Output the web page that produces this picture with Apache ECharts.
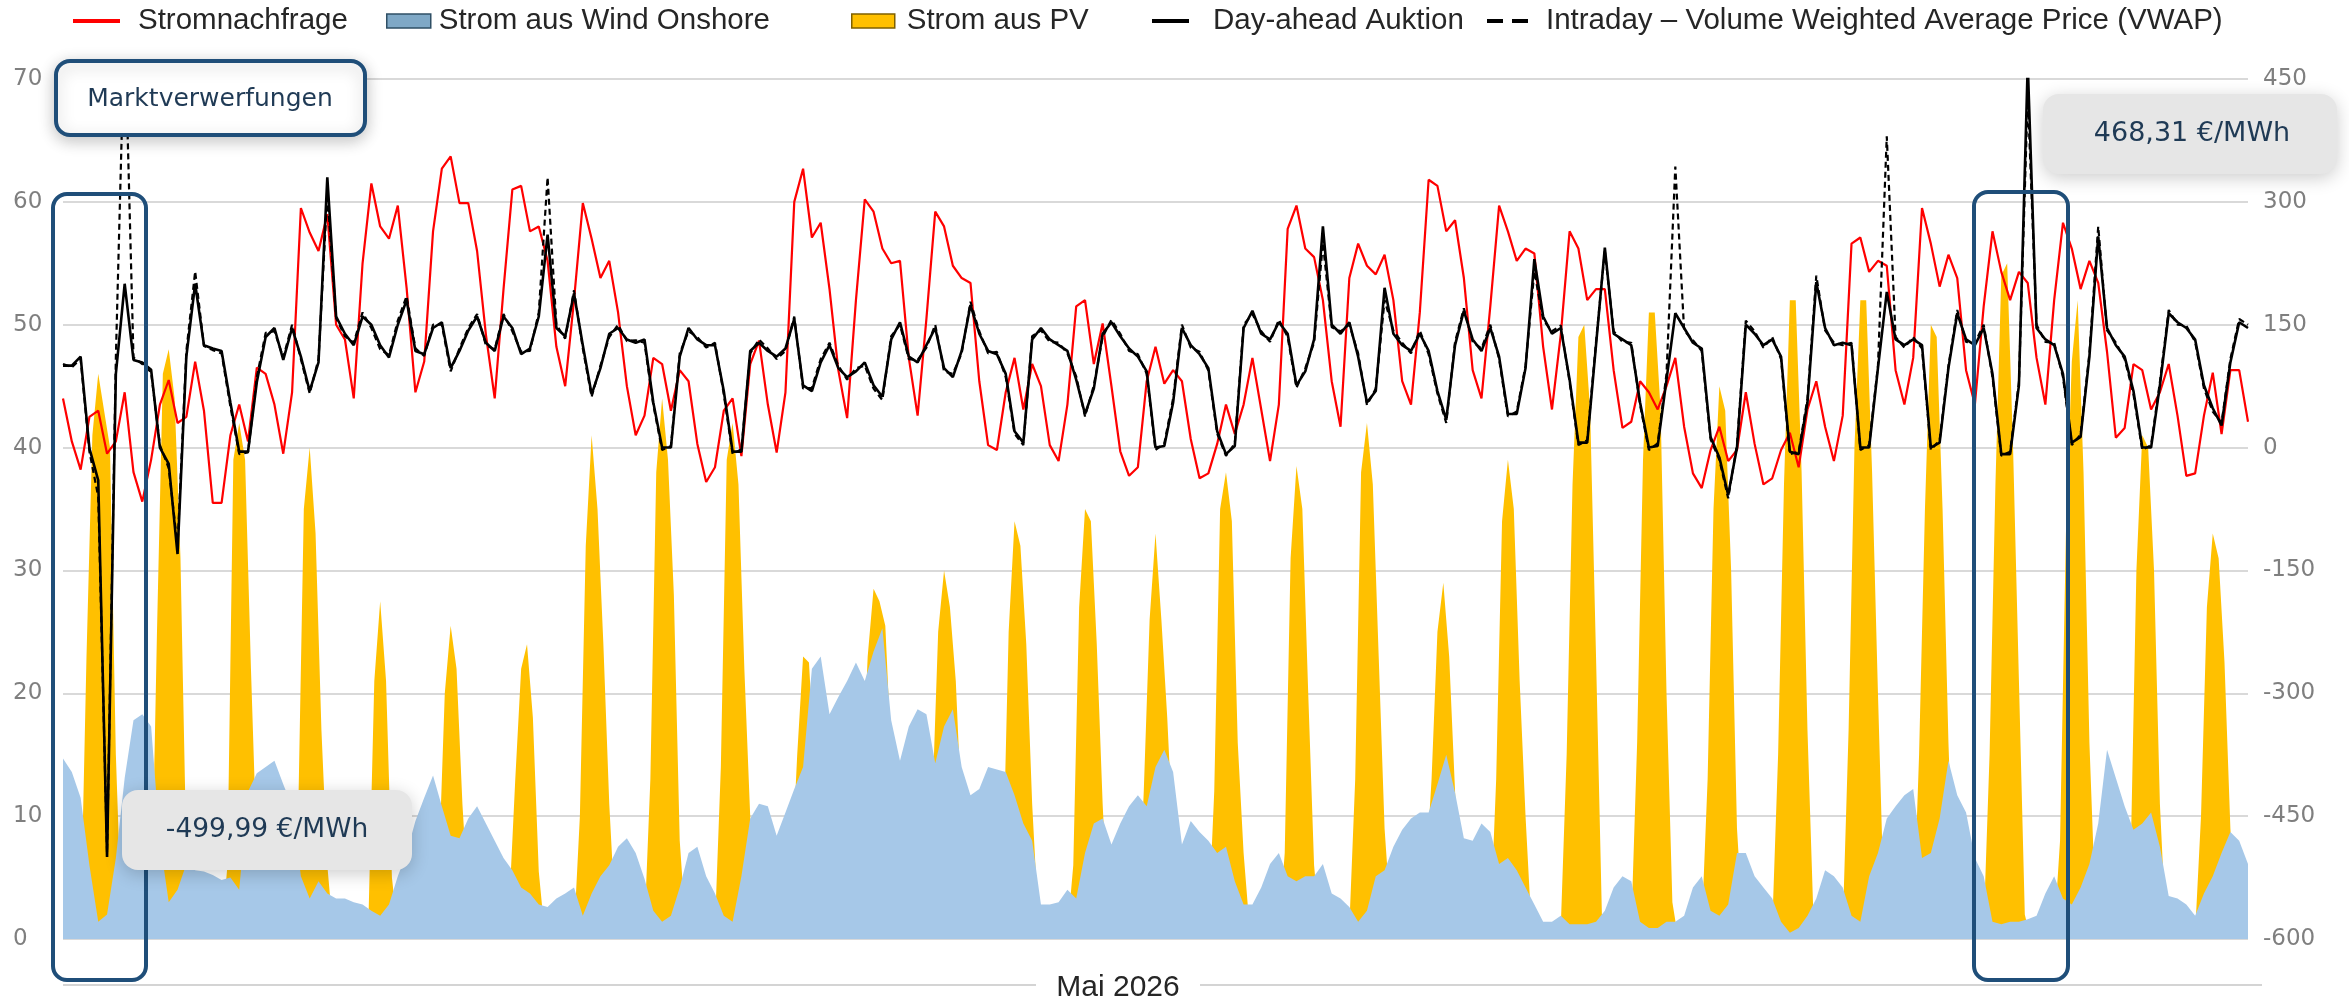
<!DOCTYPE html>
<html>
<head>
<meta charset="utf-8">
<script src="https://cdn.jsdelivr.net/npm/echarts@6/dist/echarts.min.js"></script>
<style>
  html, body { margin: 0; padding: 0; background: #fff; }
  #chart { width: 2349px; height: 1003px; }
</style>
</head>
<body>
<div id="chart"></div>
<script>
// Stützstellen alle 3 Stunden (Nachfrage, Wind, Preise), 1. Mai 00:00 bis 31. Mai 24:00
const zeitpunkte3h = [];
for (let d = 1; d <= 31; d++) {
  for (let h = 0; h < 24; h += 3) zeitpunkte3h.push(d + '.5. ' + h + ':00');
}
zeitpunkte3h.push('1.6. 0:00');

// Stützstellen alle 2 Stunden (PV)
const zeitpunkte2h = [];
for (let d = 1; d <= 31; d++) {
  for (let h = 0; h < 24; h += 2) zeitpunkte2h.push(d + '.5. ' + h + ':00');
}
zeitpunkte2h.push('1.6. 0:00');

// Stromnachfrage in GW (je Zeile ein Tag: 0,3,6,9,12,15,18,21 Uhr)
const nachfrage = [
  44, 40.5, 38.2, 42.5, 43, 39.5, 40.5, 44.5,
  38, 35.6, 39, 43.5, 45.5, 42, 42.5, 47,
  43, 35.5, 35.5, 41, 43.5, 40.5, 46.5, 46,
  43.5, 39.5, 44.5, 59.5, 57.5, 56, 59, 50,
  48.8, 44, 55, 61.5, 58, 57, 59.7, 53,
  44.5, 47, 57.6, 62.7, 63.7, 59.9, 59.9, 56,
  49.2, 44, 52.9, 61, 61.3, 57.6, 58, 55.2,
  48.2, 45, 52, 59.9, 57, 53.8, 55.2, 51,
  45, 41, 42.6, 47.3, 46.8, 43, 46.3, 45.4,
  40.3, 37.2, 38.4, 43, 44, 39.3, 46.8, 48.7,
  43.5, 39.6, 44.5, 60, 62.7, 57.1, 58.3, 52.9,
  46.3, 42.4, 52, 60.2, 59.2, 56.2, 55, 55.2,
  47.3, 42.6, 50.5, 59.2, 58, 54.8, 53.8, 53.4,
  45.4, 40.2, 39.8, 44.5, 47.3, 43.1, 46.8, 45,
  40.2, 38.9, 43.5, 51.5, 52, 46.8, 50.1, 45,
  39.7, 37.7, 38.4, 45.4, 48.2, 45.2, 46.3, 45.4,
  40.7, 37.5, 37.9, 40.3, 43.5, 41.1, 43.5, 47.3,
  43.1, 38.9, 43.5, 57.8, 59.7, 56.2, 55.5, 52,
  45.4, 41.7, 53.8, 56.6, 54.8, 54.1, 55.7, 52,
  45.4, 43.5, 51, 61.8, 61.3, 57.6, 58.5, 53.8,
  46.3, 44, 51.5, 59.7, 57.6, 55.2, 56.2, 55.8,
  48.2, 43.1, 49.2, 57.6, 56.2, 52, 52.9, 52.9,
  46.3, 41.6, 42.1, 45.4, 44.5, 43.1, 45, 47.3,
  41.7, 37.9, 36.7, 39.8, 41.7, 38.9, 39.8, 44.5,
  40.3, 37, 37.5, 39.8, 41.2, 38.4, 43.1, 45.4,
  41.7, 38.9, 42.6, 56.6, 57.1, 54.3, 55.2, 54.8,
  46.3, 43.5, 47.3, 59.5, 56.6, 53.1, 55.7, 53.8,
  46.3, 43.5, 51.5, 57.6, 54.3, 52, 54.3, 53.4,
  47.3, 43.5, 52, 58.3, 56.2, 52.9, 55.2, 53.4,
  47.8, 40.8, 41.6, 46.8, 46.3, 43.1, 44.5, 46.8,
  42.6, 37.7, 37.9, 42.6, 46.1, 41.1, 46.3, 46.3, 42.1
];

// Wind Onshore in GW (0,3,...,21 Uhr)
const windOnshore = [
  14.7, 13.6, 11.5, 6, 1.4, 2, 6.6, 13.1,
  17.8, 18.3, 17.3, 8, 3, 4, 6.1, 5.6,
  5.5, 5.2, 4.8, 5, 4, 12, 13.5, 14,
  14.5, 12.6, 10.8, 5.1, 3.3, 4.7, 3.7, 3.3,
  3.3, 3, 2.8, 2.3, 1.9, 2.8, 5.1, 7,
  9.6, 11.5, 13.3, 10.8, 8.4, 8.2, 9.8, 10.8,
  9.4, 8, 6.6, 5.6, 4.2, 3.7, 2.8, 2.6,
  3.3, 3.7, 4.2, 1.9, 3.7, 5.1, 6, 7.5,
  8.2, 7, 4.9, 2.3, 1.4, 1.9, 4.2, 7,
  7.5, 5.1, 3.7, 1.9, 1.4, 5.1, 9.8, 11,
  10.8, 8.4, 10.3, 12.2, 14, 22, 23, 18.3,
  19.7, 21, 22.5, 21, 23.4, 25.3, 17.8, 14.5,
  17.3, 18.7, 18.3, 14.3, 17.3, 18.7, 14, 11.7,
  12.2, 14, 13.8, 13.6, 11.7, 9.4, 8, 2.8,
  2.8, 3, 4, 3.3, 7, 9.4, 9.8, 7.7,
  9.4, 10.8, 11.7, 10.8, 14, 15.4, 13.6, 7.7,
  9.6, 8.7, 8, 7, 7.5, 4.7, 2.8, 2.8,
  4.2, 6.1, 7, 5.1, 4.7, 5.1, 5.1, 6.1,
  3.7, 3.3, 2.6, 1.4, 2.3, 5.1, 5.6, 7.5,
  8.9, 9.8, 10.3, 10.3, 12.6, 15, 11.9, 8.2,
  8, 9.4, 8.7, 6.1, 6.6, 5.6, 4.2, 2.8,
  1.4, 1.4, 1.9, 1.2, 1.2, 1.2, 1.4, 2.3,
  4.2, 5.1, 4.7, 1.4, 0.9, 0.9, 1.4, 1.4,
  1.9, 4.2, 5.1, 2.3, 1.9, 2.8, 7, 7,
  5.1, 4.2, 3.3, 1.4, 0.5, 0.9, 1.9, 3.3,
  5.6, 5.1, 4.2, 1.9, 1.4, 5.1, 7, 9.8,
  10.8, 11.7, 12.2, 6.6, 7, 9.8, 14.5, 11.7,
  10.3, 6.6, 5.1, 1.4, 1.2, 1.4, 1.4, 1.6,
  1.9, 3.7, 5.1, 3.3, 2.8, 4.2, 6.1, 9.4,
  15.4, 13.1, 10.8, 8.9, 9.4, 10.3, 7.5, 3.5,
  3.3, 2.8, 1.9, 3.7, 5.1, 7, 8.7, 8, 6.1
];

// Photovoltaik in GW (0,2,4,...,22 Uhr)
const pv = [
  0, 0, 0, 1, 23, 41, 46, 43, 40, 15, 1, 0,
  0, 0, 0, 1, 25, 46, 48, 44, 31, 7, 0.5, 0,
  0, 0, 0, 0.5, 6, 39, 42, 39, 22, 7, 0.5, 0,
  0, 0, 0, 0.5, 9, 35, 40, 33, 17, 6, 0.5, 0,
  0, 0, 0, 0, 1.5, 21, 27.5, 21, 5, 0.5, 0, 0,
  0, 0, 0, 0.5, 6, 20, 25.5, 22, 11, 3, 0, 0,
  0, 0, 0, 0.5, 3, 13, 22, 24, 18, 5.5, 0.5, 0,
  0, 0, 0, 0.5, 10, 32, 41, 35, 24, 11, 2, 0,
  0, 0, 0, 1, 13, 38, 44, 39, 28, 8, 1, 0,
  0, 0, 0, 1, 14, 39, 42, 37, 22, 10, 1, 0,
  0, 0, 0, 0.5, 5, 15, 23, 22.5, 14, 4, 0.5, 0,
  0, 0, 0, 0.5, 12, 23, 28.5, 27.5, 25.5, 15, 2, 0,
  0, 0, 0, 0.5, 11, 25, 30, 27, 21, 10, 1, 0,
  0, 0, 0, 0.5, 5, 25, 34, 32, 24, 11, 2, 0,
  0, 0, 0, 0.5, 6, 27, 35, 34, 24, 11, 1, 0,
  0, 0, 0, 0.5, 12, 26, 33, 26, 18, 8, 1, 0,
  0, 0, 0, 1, 12, 35, 38, 34, 16, 7, 1, 0,
  0, 0, 0, 0.5, 7, 31, 38.5, 35, 20, 6, 0.5, 0,
  0, 0, 0, 1, 13, 38, 42, 37, 23, 9, 2, 0,
  0, 0, 0, 0.5, 5, 13, 25, 29, 23, 12, 2, 0,
  0, 0, 0, 1, 13, 34, 39, 35, 21, 10, 1, 0,
  0, 0, 0, 1, 15, 37, 49, 50, 43, 23, 2, 0,
  0, 0, 0, 1, 16, 39, 51, 51, 43, 20, 3, 0,
  0, 0, 0, 1, 13, 35, 45, 43, 30, 9, 1, 0,
  0, 0, 0, 1, 15, 37, 52, 52, 38, 17, 2, 0,
  0, 0, 0, 1, 17, 40, 52, 52, 38, 20, 3, 0,
  0, 0, 0, 1, 15, 35, 50, 49, 35, 16, 2, 0,
  0, 0, 0, 1, 15, 37, 54, 55, 40, 21, 2, 0,
  0, 0, 0, 0.5, 8, 33, 47, 52, 38, 16, 3, 0,
  0, 0, 0, 0.5, 6, 30, 41, 40, 30, 11, 1, 0,
  0, 0, 0, 0.5, 10, 27, 33, 31, 22.5, 9, 1, 0, 0
];

// Day-ahead Auktion in €/MWh (0,3,...,21 Uhr)
const dayAhead = [
  100, 100, 111, -1, -40, -499.99, 90, 200,
  107, 104, 95, 0, -20, -130, 111, 200,
  125, 121, 118, 55, -5, -5, 80, 135,
  146, 107, 146, 111, 69, 104, 330, 160,
  139, 125, 160, 150, 125, 110, 150, 180,
  118, 114, 146, 153, 97, 118, 143, 160,
  128, 118, 160, 146, 114, 121, 160, 260,
  146, 136, 188, 125, 65, 97, 139, 146,
  132, 128, 132, 55, 0, 0, 111, 146,
  132, 125, 125, 69, -5, -5, 118, 128,
  118, 111, 121, 157, 76, 69, 104, 125,
  97, 86, 93, 104, 76, 62, 132, 153,
  111, 104, 125, 146, 97, 86, 118, 174,
  139, 118, 114, 90, 20, 6, 132, 146,
  132, 125, 118, 83, 41, 72, 139, 153,
  136, 121, 111, 93, 0, 2, 55, 146,
  125, 114, 97, 20, -8, 2, 146, 167,
  139, 132, 153, 139, 76, 93, 132, 270,
  150, 139, 153, 111, 55, 69, 195, 139,
  125, 118, 139, 118, 69, 34, 125, 167,
  132, 118, 146, 111, 41, 41, 97, 230,
  160, 139, 146, 83, 6, 6, 125, 244,
  139, 132, 125, 55, 0, 2, 83, 164,
  146, 128, 121, 13, -12, -58, 0, 150,
  139, 125, 132, 111, -5, -8, 55, 202,
  146, 125, 128, 125, 0, 0, 97, 190,
  132, 125, 132, 125, 0, 6, 97, 164,
  132, 125, 146, 90, -8, -8, 76, 468.31,
  146, 132, 125, 90, 6, 13, 111, 258,
  146, 125, 111, 69, 0, 0, 76, 164,
  153, 146, 132, 76, 48, 27, 104, 153, 146
];

// Intraday VWAP in €/MWh (0,3,...,21 Uhr)
const intradayVwap = [
  102, 98, 108, -5, -60, -495, 110, 520,
  110, 102, 92, 3, -25, -120, 118, 215,
  124, 119, 115, 50, -8, -6, 86, 140,
  142, 110, 150, 108, 66, 108, 310, 158,
  136, 128, 165, 146, 120, 113, 155, 185,
  121, 112, 150, 150, 93, 121, 146, 163,
  125, 120, 163, 142, 117, 118, 165, 330,
  150, 133, 192, 121, 62, 100, 135, 150,
  130, 131, 128, 52, -3, 2, 115, 142,
  135, 122, 128, 65, -8, -2, 115, 132,
  121, 108, 118, 160, 72, 73, 108, 128,
  100, 83, 97, 100, 72, 58, 136, 150,
  108, 107, 122, 150, 93, 90, 115, 178,
  142, 115, 117, 86, 17, 3, 136, 143,
  129, 128, 115, 87, 38, 76, 135, 156,
  139, 118, 114, 90, -3, 5, 60, 150,
  122, 117, 94, 17, -10, 5, 150, 163,
  142, 129, 156, 135, 73, 97, 128, 250,
  147, 142, 150, 115, 52, 72, 180, 143,
  128, 115, 143, 114, 66, 30, 129, 170,
  129, 121, 150, 108, 38, 44, 100, 215,
  156, 142, 149, 80, 3, 9, 129, 240,
  142, 129, 128, 52, -3, 5, 90, 343,
  143, 131, 118, 10, -15, -62, 4, 155,
  142, 122, 135, 108, -8, -5, 60, 210,
  143, 128, 125, 128, -3, 3, 100, 380,
  135, 122, 135, 121, -3, 9, 100, 168,
  129, 128, 150, 86, -10, -5, 80, 430,
  150, 129, 128, 86, 3, 16, 115, 270,
  143, 128, 108, 65, -3, 3, 80, 168,
  150, 149, 129, 72, 44, 30, 108, 157, 150
];

const achseLinks = { min: 0, max: 70, step: 10 };
const achseRechts = { min: -600, max: 450, step: 150 };

const tickFont = { fontFamily: 'DejaVu Sans', fontSize: 23, color: '#7f7f7f' };
const legendFont = { fontFamily: 'Liberation Sans', fontSize: 29.5, color: '#262626', lineHeight: 32 };
const navy = '#1f4e79';

function legende(name, left, icon, w, h, gap, itemStyle) {
  return {
    show: true,
    left: left,
    top: 5,
    padding: 0,
    itemWidth: w,
    itemHeight: h,
    data: [{ name: name, icon: icon, itemStyle: itemStyle }],
    textStyle: Object.assign({ padding: [0, 0, 0, gap] }, legendFont)
  };
}

const verstecktX = {
  type: 'category',
  boundaryGap: false,
  axisLine: { show: false },
  axisTick: { show: false },
  axisLabel: { show: false },
  splitLine: { show: false }
};

const chart = echarts.init(document.getElementById('chart'));

chart.setOption({
  backgroundColor: '#ffffff',
  animation: false,
  grid: { left: 63, top: 79, width: 2185, height: 860 },
  legend: [
    legende('Stromnachfrage', 73, 'rect', 47, 4, 13, { color: '#ff0000' }),
    legende('Strom aus Wind Onshore', 386, 'rect', 44, 14, 3,
      { color: '#7fa8c6', borderColor: '#2f4f65', borderWidth: 1.5 }),
    legende('Strom aus PV', 851, 'rect', 43, 14, 7,
      { color: '#ffc000', borderColor: '#7f6000', borderWidth: 1.5 }),
    legende('Day-ahead Auktion', 1152, 'rect', 37, 4, 19, { color: '#000000' }),
    legende('Intraday – Volume Weighted Average Price (VWAP)', 1487,
      'path://M0,0h16v4h-16zM25,0h16v4h-16z', 41, 4, 13, { color: '#000000' })
  ],
  xAxis: [
    Object.assign({ data: zeitpunkte3h }, verstecktX),
    Object.assign({ data: zeitpunkte2h }, verstecktX)
  ],
  yAxis: [
    {
      type: 'value',
      min: achseLinks.min, max: achseLinks.max, interval: achseLinks.step,
      axisLine: { show: false },
      axisTick: { show: false },
      axisLabel: Object.assign({ align: 'left', margin: 50 }, tickFont),
      splitLine: { lineStyle: { color: '#d9d9d9', width: 2 } }
    },
    {
      type: 'value',
      position: 'right',
      min: achseRechts.min, max: achseRechts.max, interval: achseRechts.step,
      axisLine: { show: false },
      axisTick: { show: false },
      axisLabel: Object.assign({ margin: 15 }, tickFont),
      splitLine: { show: false }
    }
  ],
  series: [
    {
      name: 'Strom aus PV',
      type: 'line',
      xAxisIndex: 1,
      data: pv,
      symbol: 'none',
      lineStyle: { width: 0 },
      itemStyle: { color: '#ffc000' },
      areaStyle: { color: '#ffc000', opacity: 1 }
    },
    {
      name: 'Strom aus Wind Onshore',
      type: 'line',
      data: windOnshore,
      symbol: 'none',
      lineStyle: { width: 0 },
      itemStyle: { color: '#a6c8e8' },
      areaStyle: { color: '#a6c8e8', opacity: 1 }
    },
    {
      name: 'Stromnachfrage',
      type: 'line',
      data: nachfrage,
      symbol: 'none',
      itemStyle: { color: '#ff0000' },
      lineStyle: { color: '#ff0000', width: 2.2 }
    },
    {
      name: 'Day-ahead Auktion',
      type: 'line',
      yAxisIndex: 1,
      data: dayAhead,
      symbol: 'none',
      itemStyle: { color: '#000000' },
      lineStyle: { color: '#000000', width: 2.6 }
    },
    {
      name: 'Intraday – Volume Weighted Average Price (VWAP)',
      type: 'line',
      yAxisIndex: 1,
      data: intradayVwap,
      symbol: 'none',
      itemStyle: { color: '#000000' },
      lineStyle: { color: '#000000', width: 2.2, type: [6, 4] }
    }
  ],
  graphic: [
    { type: 'line', z: 50, shape: { x1: 63, y1: 985, x2: 1036, y2: 985 }, style: { stroke: '#d4d4d4', lineWidth: 2 } },
    { type: 'line', z: 50, shape: { x1: 1200, y1: 985, x2: 2262, y2: 985 }, style: { stroke: '#d4d4d4', lineWidth: 2 } },
    { type: 'text', z: 50, x: 1118, y: 988,
      style: { text: 'Mai 2026', fill: '#262626', font: '30px "Liberation Sans"', align: 'center', verticalAlign: 'middle' } },

    // markierte Zeiträume
    { type: 'rect', z: 100, shape: { x: 53, y: 194, width: 93, height: 786, r: 14 },
      style: { fill: 'none', stroke: navy, lineWidth: 4 } },
    { type: 'rect', z: 100, shape: { x: 1974, y: 192, width: 94, height: 788, r: 14 },
      style: { fill: 'none', stroke: navy, lineWidth: 4 } },

    // Beschriftungen
    { type: 'rect', z: 110, shape: { x: 56, y: 61, width: 309, height: 74, r: 14 },
      style: { fill: '#ffffff', stroke: navy, lineWidth: 4, shadowBlur: 16, shadowColor: 'rgba(0,0,0,0.22)', shadowOffsetY: 4 } },
    { type: 'text', z: 111, x: 210, y: 99,
      style: { text: 'Marktverwerfungen', fill: '#1f3a55', font: '25px "DejaVu Sans"', align: 'center', verticalAlign: 'middle' } },

    { type: 'rect', z: 110, shape: { x: 122, y: 790, width: 290, height: 80, r: 16 },
      style: { fill: '#e6e6e6', shadowBlur: 18, shadowColor: 'rgba(0,0,0,0.2)', shadowOffsetY: 4 } },
    { type: 'text', z: 111, x: 267, y: 830,
      style: { text: '-499,99 €/MWh', fill: '#1f3a55', font: '26.5px "DejaVu Sans"', align: 'center', verticalAlign: 'middle' } },

    { type: 'rect', z: 110, shape: { x: 2043, y: 94, width: 294, height: 80, r: 16 },
      style: { fill: '#e6e6e6', shadowBlur: 18, shadowColor: 'rgba(0,0,0,0.2)', shadowOffsetY: 4 } },
    { type: 'text', z: 111, x: 2192, y: 134,
      style: { text: '468,31 €/MWh', fill: '#1f3a55', font: '27px "DejaVu Sans"', align: 'center', verticalAlign: 'middle' } }
  ]
});
</script>
</body>
</html>
